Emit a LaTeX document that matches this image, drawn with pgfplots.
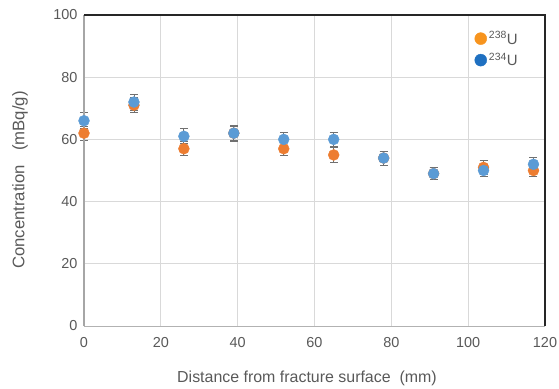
\documentclass[border=0pt]{standalone}
\usepackage{pgfplots}
\pgfplotsset{compat=1.18}
\usepackage{fontspec}
\setmainfont{Liberation Sans}
\definecolor{txtgray}{HTML}{595959}
\definecolor{ptorange}{HTML}{ED7D31}
\definecolor{ptblue}{HTML}{5B9BD5}
\definecolor{legorange}{HTML}{F7941E}
\definecolor{legblue}{HTML}{1F70C1}
\definecolor{gridgray}{HTML}{D9D9D9}
\definecolor{errgray}{HTML}{707070}
\begin{document}
\begin{tikzpicture}[x=1bp,y=1bp]
\begin{axis}[
  scale only axis,
  width=461bp, height=311bp,
  xmin=0, xmax=120, ymin=0, ymax=100,
  xtick={0,20,...,120}, ytick={0,20,...,100},
  grid=major,
  major grid style={gridgray, line width=0.8pt},
  axis line style={draw=none},
  tick style={draw=none},
  ticklabel style={font=\fontsize{14.5}{16}\selectfont, text=txtgray},
  yticklabel style={xshift=-3bp},
  xticklabel style={yshift=-8bp},
  /pgf/number format/assume math mode=true,
  xlabel={Distance from fracture surface\ \ (mm)},
  ylabel={Concentration\ \ \ (mBq/g)},
  label style={font=\fontsize{16}{18}\selectfont, text=txtgray},
  xlabel style={at={(rel axis cs:0.4837,-0.1672)}, anchor=center},
  ylabel style={at={(rel axis cs:-0.1388,0.469)}, anchor=center, font=\fontsize{16.8}{18}\selectfont},
  legend style={draw=none, fill=none, at={(rel axis cs:0.952,0.96)}, anchor=north east,
    font=\fontsize{15}{17}\selectfont, text=txtgray, row sep=3.5bp,
    /tikz/every even column/.append style={column sep=0bp}},
  legend cell align=left,
  clip=false,
]
\addplot[only marks, mark=*, mark size=5.5pt, ptorange, mark options={draw=ptorange, fill=ptorange},
  error bars/.cd, y dir=both, y explicit, error bar style={errgray, line width=0.8pt},
  error mark options={errgray, line width=0.8pt, mark size=4bp, rotate=90},
  /pgfplots/legend image code/.code={\fill[legorange] (0bp,0bp) circle (6bp);}]
  table[x=x, y=y, y error=e] {
x y e
0 62 2.3
13 71 2.4
26 57 2.3
39 62 2.3
52 57 2.3
65 55 2.3
78 54 2.2
91 49 2.0
104 51 2.1
117 50 2.0
};
\addlegendentry{\textsuperscript{238}U}
\addplot[only marks, mark=*, mark size=5.5pt, ptblue, mark options={draw=ptblue, fill=ptblue},
  error bars/.cd, y dir=both, y explicit, error bar style={errgray, line width=0.8pt},
  error mark options={errgray, line width=0.8pt, mark size=4bp, rotate=90},
  /pgfplots/legend image code/.code={\fill[legblue] (0bp,0bp) circle (6bp);}]
  table[x=x, y=y, y error=e] {
x y e
0 66 2.6
13 72 2.6
26 61 2.4
39 62 2.5
52 60 2.4
65 60 2.4
78 54 2.2
91 49 2.0
104 50 2.0
117 52 2.1
};
\addlegendentry{\textsuperscript{234}U}
\draw[gray!70, line width=1.5pt] (rel axis cs:0,0) -- (rel axis cs:0,1);
\draw[gray!60, line width=1pt] (rel axis cs:0,0) -- (rel axis cs:1,0);
\draw[black!85, line width=1.5pt] (rel axis cs:0,1) -- (rel axis cs:1,1) -- (rel axis cs:1,0);
\end{axis}
\pgfresetboundingbox
\path ([xshift=-84bp,yshift=-63bp]current axis.south west) rectangle ([xshift=14bp,yshift=15bp]current axis.north east);
\end{tikzpicture}
\end{document}
